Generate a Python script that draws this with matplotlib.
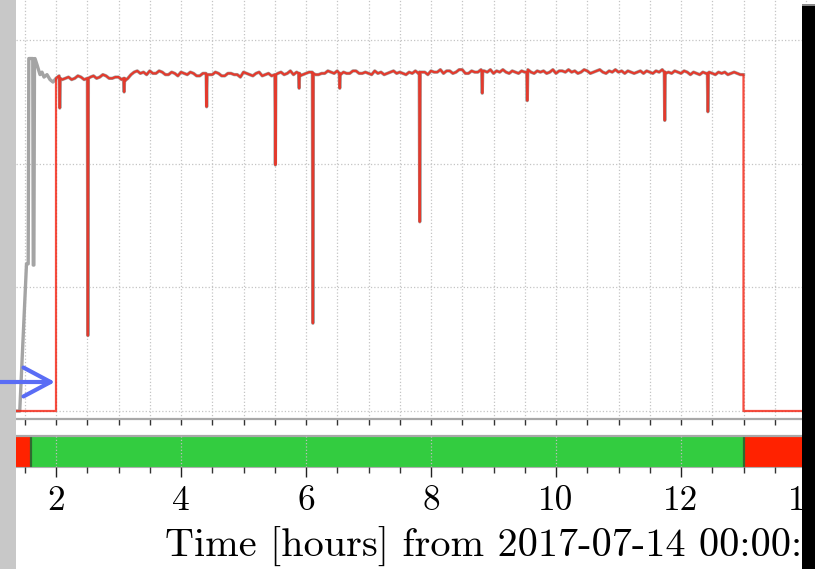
import matplotlib
matplotlib.use('Agg')
import matplotlib.pyplot as plt
import numpy as np
from matplotlib.patches import Rectangle, FancyArrowPatch

plt.rcParams['axes.formatter.use_mathtext'] = True
plt.rcParams['mathtext.fontset'] = 'cm'

# ---------------- data ----------------
# main signal level, sampled every 0.05 h from 2.0 h to 13.0 h
base_start = 2.0
base_step = 0.05
base_values = [
    26.9, 27.1, 26.8, 26.9, 27.0, 26.8, 26.9, 27.1, 27.0, 26.8,
    26.9, 27.0, 27.1, 26.9, 27.0, 27.2, 27.1, 26.9, 26.9, 27.0,
    27.0, 26.8, 26.7, 26.9, 27.2, 27.4, 27.5, 27.3, 27.4, 27.2,
    27.5, 27.3, 27.3, 27.5, 27.4, 27.2, 27.2, 27.4, 27.3, 27.1,
    27.4, 27.3, 27.2, 27.4, 27.3, 27.1, 27.1, 27.3, 27.3, 27.2,
    27.2, 27.4, 27.3, 27.1, 27.1, 27.3, 27.3, 27.2, 27.2, 27.0,
    27.4, 27.3, 27.2, 27.1, 27.3, 27.4, 27.1, 27.2, 27.3, 27.1,
    27.2, 27.3, 27.4, 27.2, 27.3, 27.5, 27.2, 27.4, 27.1, 27.2,
    27.3, 27.4, 27.4, 27.2, 27.2, 27.3, 27.3, 27.5, 27.4, 27.3,
    27.5, 27.2, 27.4, 27.3, 27.3, 27.5, 27.5, 27.3, 27.3, 27.4,
    27.3, 27.2, 27.5, 27.3, 27.4, 27.2, 27.3, 27.4, 27.5, 27.3,
    27.4, 27.3, 27.2, 27.4, 27.3, 27.5, 27.3, 27.4, 27.4, 27.2,
    27.5, 27.4, 27.4, 27.6, 27.3, 27.5, 27.5, 27.3, 27.4, 27.6,
    27.6, 27.3, 27.3, 27.5, 27.4, 27.4, 27.6, 27.5, 27.4, 27.6,
    27.3, 27.5, 27.4, 27.6, 27.4, 27.3, 27.5, 27.4, 27.3, 27.5,
    27.4, 27.6, 27.4, 27.3, 27.5, 27.4, 27.5, 27.3, 27.4, 27.6,
    27.3, 27.5, 27.5, 27.4, 27.6, 27.4, 27.5, 27.3, 27.4, 27.6,
    27.5, 27.3, 27.4, 27.5, 27.6, 27.4, 27.3, 27.5, 27.4, 27.6,
    27.4, 27.5, 27.3, 27.5, 27.4, 27.3, 27.4, 27.5, 27.3, 27.5,
    27.4, 27.3, 27.5, 27.4, 27.6, 27.3, 27.4, 27.3, 27.5, 27.4,
    27.3, 27.5, 27.4, 27.2, 27.4, 27.3, 27.2, 27.4, 27.3, 27.4,
    27.3, 27.2, 27.4, 27.3, 27.4, 27.2, 27.3, 27.4, 27.3, 27.2,
    27.2,
]

# short dips in the signal
spike_hours     = [2.06, 2.51, 3.09, 4.41, 5.51, 5.89, 6.11, 6.54, 7.82, 8.82, 9.54, 11.74, 12.43]
spike_lows      = [24.5, 6.1, 25.8, 24.6, 19.9, 26.1, 7.1, 26.1, 15.3, 25.7, 25.1, 23.5, 24.2]
spike_shoulders = [26.9, 26.9, 26.9, 27.2, 27.2, 27.3, 27.3, 27.3, 27.4, 27.5, 27.4, 27.4, 27.3]

# grey trace start-up (before the red trace switches on)
gray_start_hours  = [1.30, 1.42, 1.528, 1.555, 1.565, 1.628, 1.636, 1.646, 1.656, 1.664,
                     1.696, 1.744, 1.776, 1.808, 1.856, 1.904, 1.952]
gray_start_values = [0.0, 0.0, 11.9, 11.9, 28.5, 28.5, 11.8, 11.8, 28.4, 28.5,
                     28.0, 27.2, 27.4, 27.0, 27.2, 26.8, 26.6]

# red trace on/off times
red_on_hour = 2.0
red_off_hour = 13.0
red_off_value = 0.0

# state bar
state_bounds = [1.30, 1.60, 13.0, 15.6]
state_colors = ['#ff2200', '#33cc40', '#ff2200']

tick_values = [2, 4, 6, 8, 10, 12, 14]
tick_labels = ['2', '4', '6', '8', '10', '12', '14']
xlabel_text = 'Time [hours] from 2017-07-14 00:00:00'

# ---------------- build series ----------------
base_t = [base_start + i * base_step for i in range(len(base_values))]
sp_t, sp_v = [], []
for h, lo, sh in zip(spike_hours, spike_lows, spike_shoulders):
    sp_t += [h - 0.008, h, h + 0.008]
    sp_v += [sh, lo, sh]
all_t = np.array(base_t + sp_t)
all_v = np.array(base_values + sp_v)
order = np.argsort(all_t, kind='stable')
main_t = all_t[order]
main_v = all_v[order]

red_t = np.concatenate([[state_bounds[0], red_on_hour], main_t, [red_off_hour, state_bounds[-1]]])
red_v = np.concatenate([[red_off_value, red_off_value], main_v, [red_off_value, red_off_value]])
gray_t = np.concatenate([gray_start_hours, main_t])
gray_v = np.concatenate([gray_start_values, main_v])

# ---------------- figure ----------------
W, H = 815, 569
fig = plt.figure(figsize=(W / 100, H / 100), dpi=100)
fig.patch.set_facecolor('white')

def px_axes(l, t, r, b):
    return [l / W, 1 - b / H, (r - l) / W, (b - t) / H]

pxh = 62.5
x0 = 2 - 40 / pxh
x1 = x0 + 884 / pxh

ax = fig.add_axes(px_axes(16, -10, 900, 419))
axb = fig.add_axes(px_axes(16, 436, 900, 467))

pxu = 123.67 / 10.0
ax.set_xlim(x0, x1)
ax.set_ylim(-8 / pxu, 421 / pxu)

ax.plot(gray_t, gray_v, color='#a4a4a4', lw=2.4, zorder=2)
ax.plot(red_t, red_v, color='#f4200f', lw=1.6, alpha=0.8, zorder=3)

grid_kw = dict(color='#c4c4c4', linestyle=':', linewidth=0.9)
ax.set_xticks(tick_values)
ax.set_xticks(np.arange(1.5, 15.5, 0.5), minor=True)
ax.set_yticks([0, 10, 20, 30])
ax.grid(True, which='both', axis='x', **grid_kw)
ax.grid(True, which='major', axis='y', **grid_kw)
ax.set_axisbelow(True)
ax.tick_params(axis='x', which='both', direction='out', length=4.5, width=1.0,
               color='#333333', labelbottom=False)
ax.tick_params(axis='y', which='both', left=False, labelleft=False)
for s in ['top', 'right', 'left']:
    ax.spines[s].set_visible(False)
ax.spines['bottom'].set_color('#a8a8a8')
ax.spines['bottom'].set_linewidth(1.6)

# state bar
axb.set_xlim(x0, x1)
axb.set_ylim(0, 1)
for a, b, c in zip(state_bounds[:-1], state_bounds[1:], state_colors):
    axb.broken_barh([(a, b - a)], (0, 1), facecolors=c, edgecolor='none', zorder=1)
for b in state_bounds[1:-1]:
    axb.axvline(b, color='#2f6a2f', lw=1.6, zorder=2)
axb.set_xticks(tick_values)
axb.set_xticklabels(tick_labels, fontfamily='cmr10', fontsize=25.5)
axb.set_xticks(np.arange(1.5, 15.5, 0.5), minor=True)
axb.grid(True, which='major', axis='x', color='#bdbdbd', linestyle=':', linewidth=0.9, zorder=3)
axb.set_axisbelow(False)
axb.tick_params(axis='x', which='major', direction='out', length=7, width=1.0,
                color='#222222', pad=6.5)
axb.tick_params(axis='x', which='minor', direction='out', length=4, width=1.0,
                color='#333333')
axb.tick_params(axis='y', left=False, labelleft=False)
for s in ['right', 'left']:
    axb.spines[s].set_visible(False)
axb.spines['top'].set_color('#a8a8a8')
axb.spines['top'].set_linewidth(1.6)
axb.spines['bottom'].set_color('#b0b0b0')
axb.spines['bottom'].set_linewidth(0.8)

fig.text(165 / W, (H - 557) / H, xlabel_text, fontfamily='cmr10', fontsize=29,
         ha='left', va='baseline', zorder=3)

# frame overlays (cropped neighbours)
fig.patches.append(Rectangle((0, 0), 16 / W, 1, transform=fig.transFigure,
                             facecolor='#c8c8c8', edgecolor='none', zorder=5))
fig.patches.append(Rectangle((802 / W, 0), 13 / W, (H - 5) / H, transform=fig.transFigure,
                             facecolor='black', edgecolor='none', zorder=7))
fig.patches.append(Rectangle((802 / W, (H - 6) / H), 13 / W, 1.5 / H, transform=fig.transFigure,
                             facecolor='#8a8a8a', edgecolor='none', zorder=8))
arrow = FancyArrowPatch((0, 1 - 382 / H), (55 / W, 1 - 382 / H), transform=fig.transFigure,
                        arrowstyle='->,head_length=0.75,head_width=0.4', mutation_scale=26,
                        shrinkA=0, shrinkB=0, lw=3, color='#5a6df5', zorder=6)
fig.patches.append(arrow)

fig.savefig('out.png', dpi=100)
